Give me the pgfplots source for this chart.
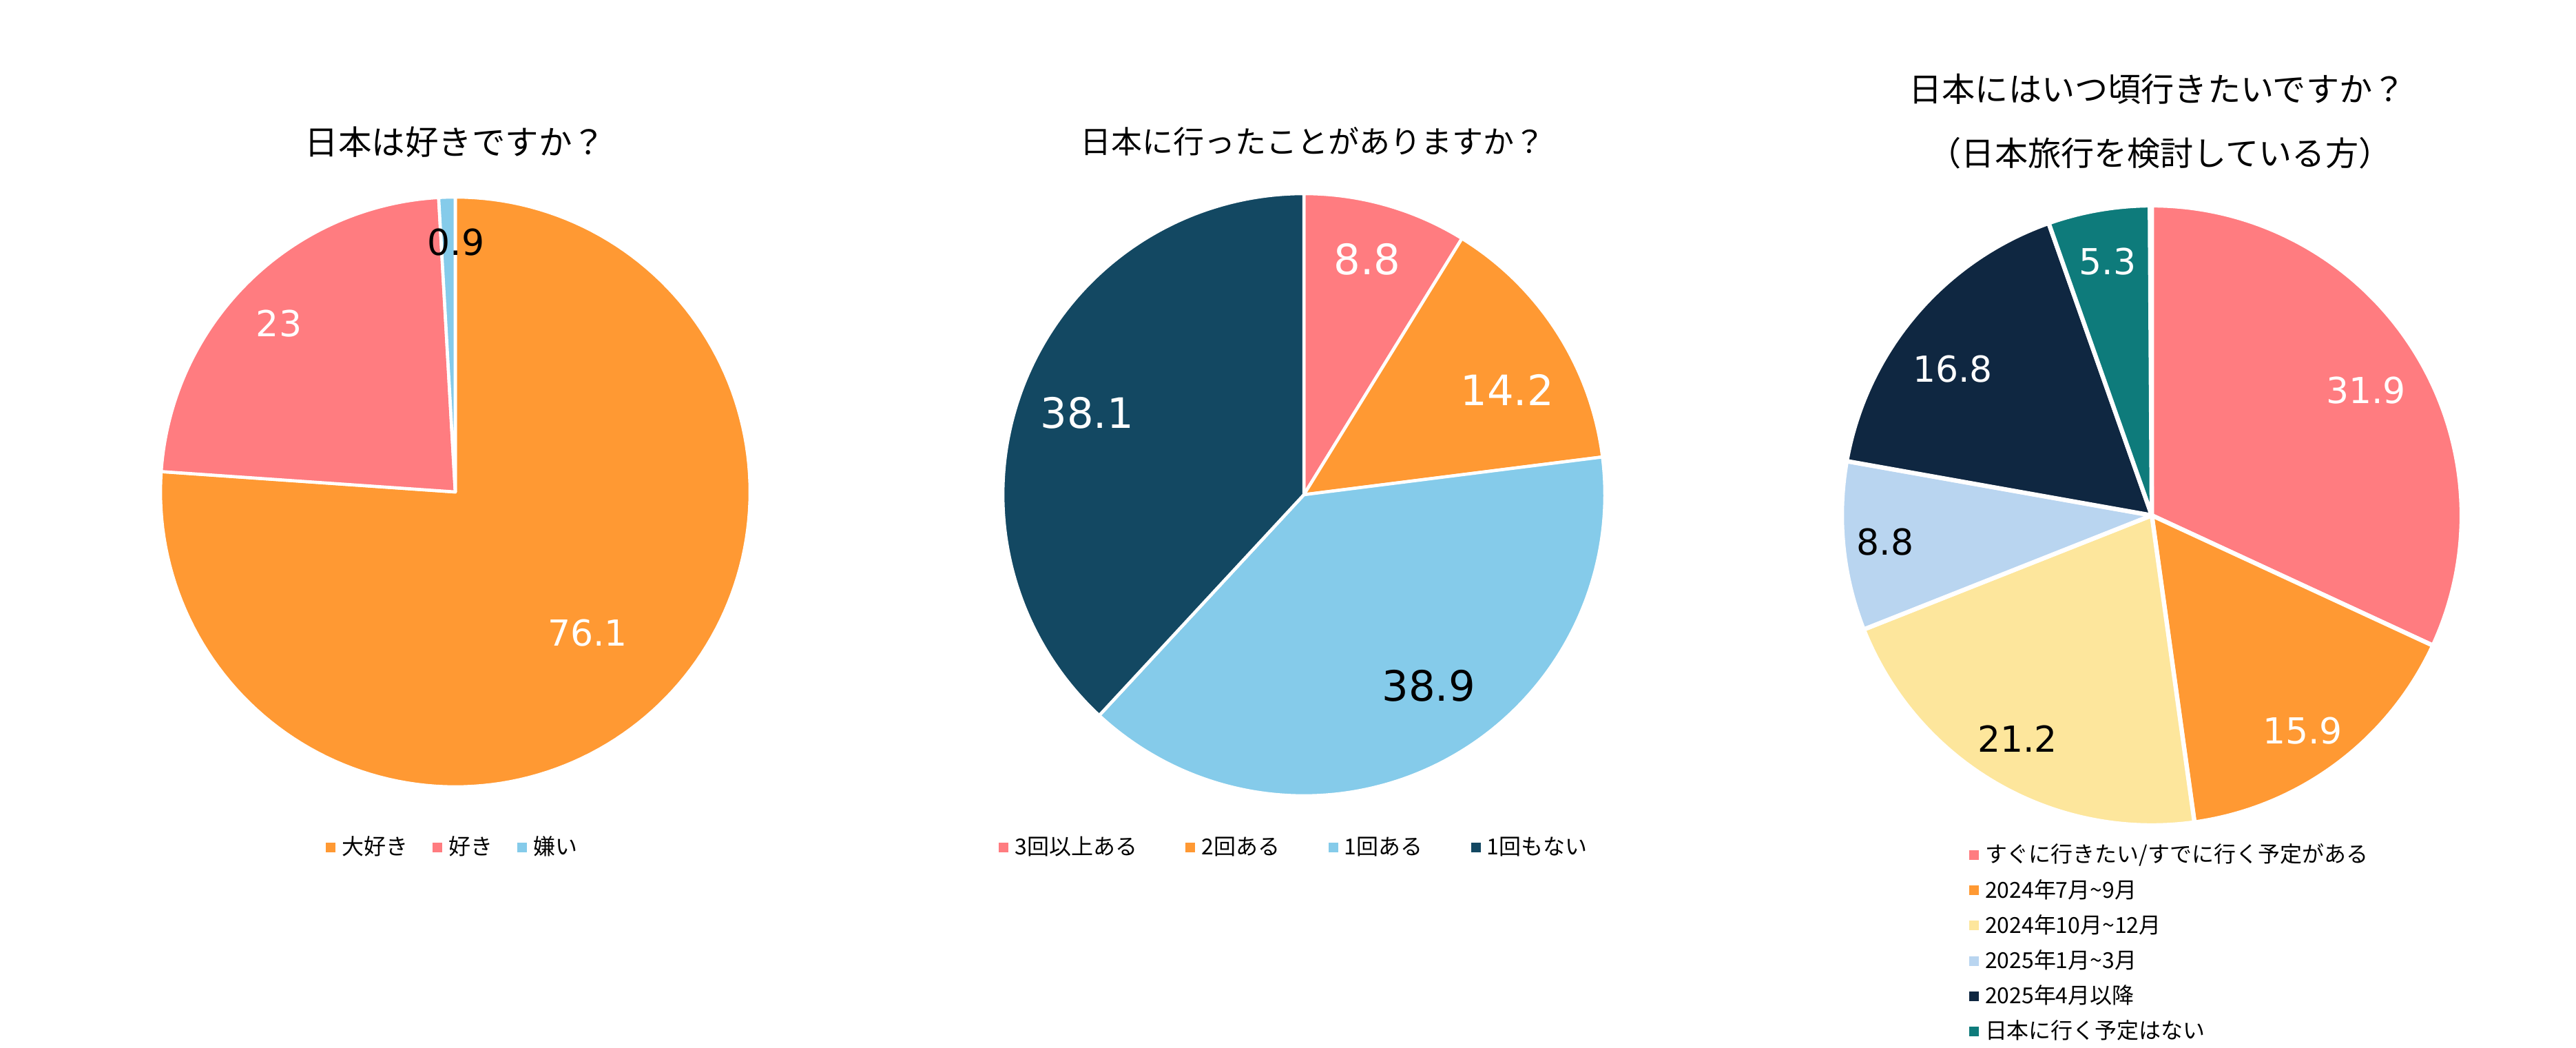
\documentclass[border=0pt]{standalone}
\usepackage{pgfplots}
\pgfplotsset{compat=1.18}
\usepackage{fontspec}
\setmainfont{Noto Sans CJK JP}
\newfontfamily\num{DejaVu Sans}
\definecolor{cOrange}{HTML}{FF9933}
\definecolor{cPink}{HTML}{FF7C80}
\definecolor{cSky}{HTML}{85CBEA}
\definecolor{cDeep}{HTML}{134862}
\definecolor{cNavy}{HTML}{0F2741}
\definecolor{cTeal}{HTML}{0E7B7B}
\definecolor{cCream}{HTML}{FDE69C}
\definecolor{cPale}{HTML}{B9D5F0}
% slice: colour, cx, cy, r, cumulative start (%), cumulative end (%), border width
\newcommand\slice[7]{%
  \addplot[fill=#1, draw=white, line width=#7, line join=round, domain={90-3.6*#6}:{90-3.6*#5}, samples=150, variable=\t]
    ({#2+#4*cos(\t)},{#3+#4*sin(\t)}) -- (#2,#3) -- cycle;}
\pgfplotsset{
  frame/.style={at={(0,0)}, anchor=south west, width=37.4cm, height=15.21cm, scale only axis,
    xmin=0, xmax=3740, ymin=0, ymax=1521, hide axis, clip=false,
    legend image code/.code={\fill[##1, draw=none] (0pt,-2pt) rectangle (4pt,2pt);},
    legend cell align=left},
  lg/.style={legend style={draw=none, fill=none, inner sep=0pt, font=\fontsize{9.1}{11}\selectfont,
    nodes={inner xsep=2.6pt, inner ysep=0pt}}},
}
\begin{document}
\begin{tikzpicture}
\path[use as bounding box] (0,0) rectangle (37.4cm,15.21cm);
% ---------- Pie 1 ----------
\begin{axis}[frame, lg, legend columns=-1,
  legend style={at={(0.17647,0.19132)}, anchor=center, /tikz/every even column/.append style={column sep=7.6pt}}]
\slice{cOrange}{661}{807}{428}{0}{76.1}{1.3pt}
\slice{cPink}{661}{807}{428}{76.1}{99.1}{1.3pt}
\slice{cSky}{661}{807}{428}{99.1}{100}{1.3pt}
\legend{大好き,好き,嫌い}
\node[font=\fontsize{13.8}{16}\selectfont] at (661,1315) {日本は好きですか？};
\node[font=\num\fontsize{14.8}{16}\selectfont, text=white] at (853,602) {76.1};
\node[font=\num\fontsize{14.8}{16}\selectfont, text=white] at (405,1051) {23};
\node[font=\num\fontsize{14.8}{16}\selectfont, text=black] at (662,1169) {0.9};
\end{axis}
% ---------- Pie 2 ----------
\begin{axis}[frame, lg, legend columns=-1,
  legend style={at={(0.50321,0.19132)}, anchor=center, /tikz/every even column/.append style={column sep=17.4pt}}]
\slice{cPink}{1893}{803}{437}{0}{8.8}{1.3pt}
\slice{cOrange}{1893}{803}{437}{8.8}{23}{1.3pt}
\slice{cSky}{1893}{803}{437}{23}{61.9}{1.3pt}
\slice{cDeep}{1893}{803}{437}{61.9}{100}{1.3pt}
\legend{3回以上ある,2回ある,1回ある,1回もない}
\node[font=\fontsize{12.8}{15}\selectfont] at (1906,1316) {日本に行ったことがありますか？};
\node[font=\num\fontsize{17.3}{19}\selectfont, text=white] at (1985,1145) {8.8};
\node[font=\num\fontsize{17.3}{19}\selectfont, text=white] at (2188,955) {14.2};
\node[font=\num\fontsize{17.3}{19}\selectfont, text=black] at (2074,526) {38.9};
\node[font=\num\fontsize{17.3}{19}\selectfont, text=white] at (1578,922) {38.1};
\end{axis}
% ---------- Pie 3 ----------
\begin{axis}[frame, lg, legend columns=1,
  legend style={at={(0.76417,0.19527)}, anchor=north west, row sep=5.4pt}]
\slice{cPink}{3124}{773}{450}{0}{31.9}{1.8pt}
\slice{cOrange}{3124}{773}{450}{31.9}{47.8}{1.8pt}
\slice{cCream}{3124}{773}{450}{47.8}{69}{1.8pt}
\slice{cPale}{3124}{773}{450}{69}{77.8}{1.8pt}
\slice{cNavy}{3124}{773}{450}{77.8}{94.6}{1.8pt}
\slice{cTeal}{3124}{773}{450}{94.6}{99.9}{1.8pt}
\legend{すぐに行きたい/すでに行く予定がある,2024年7月\textasciitilde9月,2024年10月\textasciitilde12月,2025年1月\textasciitilde3月,2025年4月以降,日本に行く予定はない}
\node[font=\fontsize{13.7}{16}\selectfont] at (3132,1392) {日本にはいつ頃行きたいですか？};
\node[font=\fontsize{13.7}{16}\selectfont] at (3136,1299) {（日本旅行を検討している方）};
\node[font=\num\fontsize{14.8}{16}\selectfont, text=white] at (3435,954) {31.9};
\node[font=\num\fontsize{14.8}{16}\selectfont, text=white] at (3343,460) {15.9};
\node[font=\num\fontsize{14.8}{16}\selectfont, text=black] at (2929,449) {21.2};
\node[font=\num\fontsize{14.8}{16}\selectfont, text=black] at (2737,734) {8.8};
\node[font=\num\fontsize{14.8}{16}\selectfont, text=white] at (2835,985) {16.8};
\node[font=\num\fontsize{14.8}{16}\selectfont, text=white] at (3060,1141) {5.3};
\end{axis}
\end{tikzpicture}
\end{document}
